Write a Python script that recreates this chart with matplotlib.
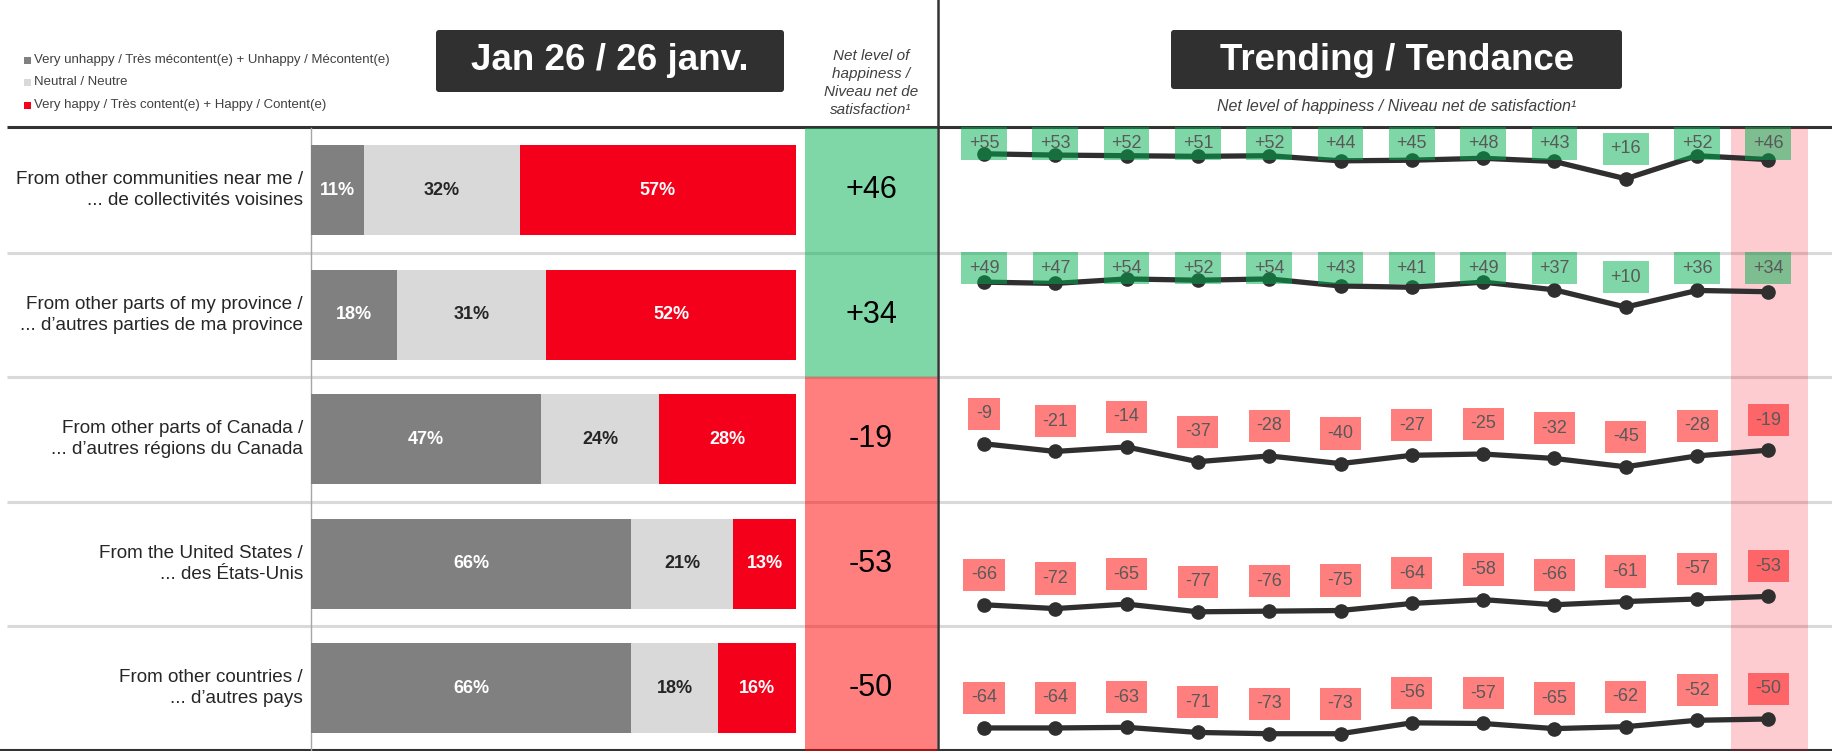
import matplotlib
matplotlib.use("Agg")
import matplotlib.pyplot as plt
from matplotlib.patches import FancyBboxPatch, Rectangle
from matplotlib.transforms import blended_transform_factory

plt.rcParams["font.family"] = ["Liberation Sans", "DejaVu Sans"]

# ------------------------------------------------------------
# Data
# ------------------------------------------------------------
categories = [
    "From other communities near me /\n... de collectivités voisines",
    "From other parts of my province /\n... d’autres parties de ma province",
    "From other parts of Canada /\n... d’autres régions du Canada",
    "From the United States /\n... des États-Unis",
    "From other countries /\n... d’autres pays",
]
unhappy = [11, 18, 47, 66, 66]
neutral = [32, 31, 24, 21, 18]
happy = [57, 52, 28, 13, 16]
net_now = [46, 34, -19, -53, -50]

legend_labels = [
    "Very unhappy / Très mécontent(e) + Unhappy / Mécontent(e)",
    "Neutral / Neutre",
    "Very happy / Très content(e) + Happy / Content(e)",
]

trend_communities = [55, 53, 52, 51, 52, 44, 45, 48, 43, 16, 52, 46]
trend_province = [49, 47, 54, 52, 54, 43, 41, 49, 37, 10, 36, 34]
trend_canada = [-9, -21, -14, -37, -28, -40, -27, -25, -32, -45, -28, -19]
trend_us = [-66, -72, -65, -77, -76, -75, -64, -58, -66, -61, -57, -53]
trend_other = [-64, -64, -63, -71, -73, -73, -56, -57, -65, -62, -52, -50]
trends = [trend_communities, trend_province, trend_canada, trend_us, trend_other]

# colours
C_UNHAPPY = "#808080"
C_NEUTRAL = "#D9D9D9"
C_HAPPY = "#F4001A"
C_POS = "#00B050"
C_NEG = "#FF0000"
C_DARK = "#333333"

# ------------------------------------------------------------
# Layout (pixels)
# ------------------------------------------------------------
W, H = 1833, 751
ROW_TOP = 128
ROW_H = 124.5
N = len(categories)


def rect(x0, y0, x1, y1):
    return [x0 / W, 1 - y1 / H, (x1 - x0) / W, (y1 - y0) / H]


fig = plt.figure(figsize=(W / 100, H / 100), dpi=100)

# background / decoration layer in pixel coords
bg = fig.add_axes([0, 0, 1, 1], zorder=0)
bg.set_xlim(0, W)
bg.set_ylim(H, 0)
bg.axis("off")

for k in range(1, N):
    y = ROW_TOP + k * ROW_H
    bg.plot([7, W], [y, y], color=C_NEUTRAL, lw=2.2, solid_capstyle="butt")
bg.plot([7, W], [127, 127], color=C_DARK, lw=2.2, solid_capstyle="butt")
bg.plot([0, W], [749.5, 749.5], color=C_DARK, lw=1.5)
bg.plot([938, 938], [0, H], color=C_DARK, lw=1.8)
bg.plot([311, 311], [128, H], color="#A6A6A6", lw=1)

# title boxes
bg.add_patch(FancyBboxPatch((436, 30), 348, 62, boxstyle="round,pad=0,rounding_size=3",
                            fc="#303030", ec="none"))
bg.text(610, 61, "Jan 26 / 26 janv.", color="white", fontsize=26.5, fontweight="bold",
        ha="center", va="center")
bg.add_patch(FancyBboxPatch((1171, 30), 451, 59, boxstyle="round,pad=0,rounding_size=3",
                            fc="#303030", ec="none"))
bg.text(1397, 60, "Trending / Tendance", color="white", fontsize=26.5, fontweight="bold",
        ha="center", va="center")
bg.text(1397, 106, "Net level of happiness / Niveau net de satisfaction¹", color="#404040",
        fontsize=11.5, style="italic", ha="center", va="center")
bg.text(871, 83, "Net level of\nhappiness /\nNiveau net de\nsatisfaction¹", color="#404040",
        fontsize=11, style="italic", ha="center", va="center", linespacing=1.38)

# legend
for lbl, col, y in zip(legend_labels, [C_UNHAPPY, C_NEUTRAL, C_HAPPY], [60, 82, 105]):
    bg.add_patch(Rectangle((24, y - 3.5), 7, 7, fc=col, ec="none"))
    bg.text(34, y, lbl, fontsize=9.5, color="#404040", va="center", ha="left")

# ------------------------------------------------------------
# Stacked bars (scaled so each row fills 100 %)
# ------------------------------------------------------------
ax = fig.add_axes(rect(311, ROW_TOP, 796, ROW_TOP + N * ROW_H), zorder=2)
ax.set_facecolor("none")
ypos = list(range(N))
tot = [a + b + c for a, b, c in zip(unhappy, neutral, happy)]
w1 = [a / t * 100 for a, t in zip(unhappy, tot)]
w2 = [b / t * 100 for b, t in zip(neutral, tot)]
w3 = [c / t * 100 for c, t in zip(happy, tot)]
l3 = [a + b for a, b in zip(w1, w2)]
ax.barh(ypos, w1, height=0.72, color=C_UNHAPPY)
ax.barh(ypos, w2, left=w1, height=0.72, color=C_NEUTRAL)
ax.barh(ypos, w3, left=l3, height=0.72, color=C_HAPPY)
ax.set_xlim(0, 100)
ax.set_ylim(N - 0.5, -0.5)
ax.axis("off")

for i in range(N):
    ax.text(w1[i] / 2, i, f"{unhappy[i]}%", color="white", fontsize=13,
            fontweight="bold", ha="center", va="center")
    ax.text(w1[i] + w2[i] / 2, i, f"{neutral[i]}%", color="#262626", fontsize=13,
            fontweight="bold", ha="center", va="center")
    ax.text(l3[i] + w3[i] / 2, i, f"{happy[i]}%", color="white", fontsize=13,
            fontweight="bold", ha="center", va="center")

tr = blended_transform_factory(ax.transAxes, ax.transData)
for i, lbl in enumerate(categories):
    ax.text(-8 / 485, i, lbl, transform=tr, ha="right", va="center", fontsize=13.6,
            color="#262626", linespacing=1.3)

# ------------------------------------------------------------
# Net column
# ------------------------------------------------------------
axn = fig.add_axes(rect(805, ROW_TOP, 937, ROW_TOP + N * ROW_H), zorder=3)
axn.set_facecolor("none")
axn.barh(ypos, [1] * N, height=1.0, color=[C_POS if v > 0 else C_NEG for v in net_now],
         alpha=0.5, lw=0)
axn.set_xlim(0, 1)
axn.set_ylim(N - 0.5, -0.5)
axn.axis("off")
for i, v in enumerate(net_now):
    axn.text(0.5, i, f"{v:+d}", fontsize=22, ha="center", va="center", color="black")

# ------------------------------------------------------------
# Trend rows
# ------------------------------------------------------------
months = list(range(len(trend_communities)))
for i, vals in enumerate(trends):
    top = ROW_TOP + i * ROW_H
    axt = fig.add_axes(rect(940, top, W, top + ROW_H), zorder=3)
    axt.set_facecolor("none")
    axt.set_xlim(-0.617, 11.907)
    axt.set_ylim(-99.2, 95.3)
    axt.axis("off")
    axt.axvspan(10.48, 11.56, color=C_HAPPY, alpha=0.2, lw=0, zorder=0)
    axt.plot(months, vals, color="#2F2F2F", lw=3.8, marker="o", ms=9.5, zorder=2)
    for j, v in zip(months, vals):
        axt.text(j, min(v + 47, 71), f"{v:+d}", fontsize=13, color="#595959",
                 ha="center", va="center", zorder=3,
                 bbox=dict(boxstyle="square,pad=0.42", fc=C_POS if v > 0 else C_NEG,
                           ec="none", alpha=0.5))

fig.savefig("out.png", dpi=100)
